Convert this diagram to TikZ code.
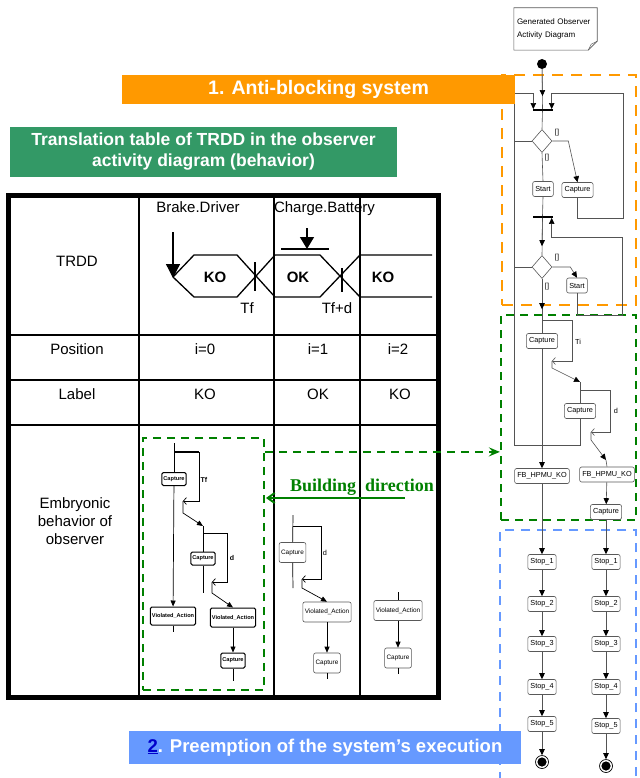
\documentclass[tikz,border=0pt]{standalone}
\usepackage{fontspec}
\setmainfont{Liberation Sans}
\newfontfamily\serifbf{Liberation Serif}
\usetikzlibrary{arrows.meta,shapes.geometric,calc}

\begin{document}
\begin{tikzpicture}[x=1pt,y=-1pt,
  banner/.style={rectangle,fill=#1,text=white,inner sep=0pt,align=center},
  zone/.style={rectangle,draw=#1,line width=2.5pt,dash pattern=on 9pt off 7pt,inner sep=0pt},
  cell/.style={font=\fontsize{15}{18}\selectfont,align=center},
  actbox/.style={rectangle,rounded corners=2pt,draw=gray!70!black,fill=white,line width=0.6pt,
                 inner sep=2.6pt,minimum height=15pt,font=\fontsize{7.3}{8}\selectfont},
  embox/.style={rectangle,rounded corners=1.5pt,draw=black,fill=white,line width=1pt,
                inner sep=1.5pt,minimum height=13pt,font=\fontsize{5.6}{6}\selectfont\bfseries},
  ebox/.style={actbox,font=\fontsize{6.4}{7}\selectfont,minimum height=20pt,inner sep=2pt},
  dec/.style={diamond,draw=gray!70!black,fill=white,line width=0.6pt,inner sep=0pt,
              minimum width=20pt,minimum height=23pt},
  barnode/.style={rectangle,fill=black,inner sep=0pt,minimum width=20pt,minimum height=1.5pt},
  fin/.style={circle,draw,line width=0.7pt,inner sep=0pt,minimum size=13pt,
              path picture={\fill (path picture bounding box.center) circle (4.6pt);}},
  lbl/.style={font=\fontsize{7.3}{8}\selectfont,inner sep=1pt},
  flw/.style={draw=gray!65!black,line width=0.6pt},
  fla/.style={flw,-{Triangle[length=6pt,width=5.5pt,color=black]}},
  bck/.style={flw,-{Straight Barb[length=3pt,width=7pt]}},
  eln/.style={draw=black,line width=0.7pt},
  ela/.style={eln,-{Triangle[length=6pt,width=5pt]}},
  ebk/.style={eln,-{Straight Barb[length=3pt,width=7pt]}},
]
  \definecolor{corange}{HTML}{FF9900}
  \definecolor{cgreenb}{HTML}{339966}
  \definecolor{cblue}{HTML}{6699FF}
  \definecolor{cdash}{HTML}{008000}
  \definecolor{clink}{HTML}{0000CC}

  \clip (0,0) rectangle (639,778);
  \fill[white] (0,0) rectangle (639,778);

  % translation table
  \draw[line width=5pt] (8.5,195) rectangle (438,697);
  \foreach \x in {139,274,360} \draw[line width=1.8pt] (\x,195) -- (\x,697);
  \foreach \y in {335,380,425} \draw[line width=1.8pt] (8.5,\y) -- (438,\y);

  \node[cell] (trdd) at (77,261) {TRDD};
  \node[cell] (pos) at (77,349) {Position};
  \node[cell] (lab) at (77,394) {Label};
  \node[cell] (embr) at (75,521) {Embryonic\\behavior of\\observer};
  \node[cell] (p0) at (205,349) {i=0};
  \node[cell] (p1) at (318,349) {i=1};
  \node[cell] (p2) at (398,349) {i=2};
  \node[cell] (l0) at (205,394) {KO};
  \node[cell] (l1) at (318,394) {OK};
  \node[cell] (l2) at (400,394) {KO};

  % TRDD chronogram
  \node[cell,anchor=base] (brk) at (198,212.5) {Brake.Driver};
  \node[cell,anchor=base] (chg) at (324.5,212.5) {Charge.Battery};
  \draw[line width=1.3pt] (173,277) -- (194,255) -- (237,255) -- (275,297) -- (320,297) -- (360,255) -- (432,255);
  \draw[line width=1.3pt] (173,277) -- (194,297) -- (237,297) -- (275,255) -- (320,255) -- (360,297) -- (432,297);
  \draw[line width=1.3pt] (255,262) -- (255,291) (342,268) -- (342,292);
  \draw[line width=1.3pt,-{Triangle[length=14pt,width=14pt]}] (173,232) -- (173,278);
  \draw[line width=1.3pt,-{Triangle[length=12pt,width=14pt]}] (307,228) -- (307,249);
  \draw[line width=1.5pt] (281,249) -- (329,249);
  \node[cell,font=\fontsize{15}{18}\selectfont\bfseries] (s0) at (215,277) {KO};
  \node[cell,font=\fontsize{15}{18}\selectfont\bfseries] (s1) at (298,277) {OK};
  \node[cell,font=\fontsize{15}{18}\selectfont\bfseries] (s2) at (383,277) {KO};
  \node[cell] (tf) at (247,308) {Tf};
  \node[cell] (tfd) at (337,308) {Tf+d};

  % embryonic behaviour, i=0
  \node[zone=cdash,dash pattern=on 8pt off 6pt,line width=2.2pt,minimum width=121pt,minimum height=252pt] (embA) at (203.5,564) {};
  \coordinate (a0) at (174,443);
  \coordinate (a1) at (199,452);
  \coordinate (a2) at (183,501);
  \coordinate (a3) at (183,513);
  \coordinate (a4) at (203,526);
  \node[embox] (ecap1) at (174,479) {Capture};
  \node[embox,minimum height=18pt] (eva1) at (173,616) {Violated\_Action};
  \node[embox] (ecap2) at (203,558.5) {Capture};
  \node[embox,minimum height=19pt] (eva2) at (233,617.5) {Violated\_Action};
  \node[embox,minimum height=15pt] (ecap3) at (233,660.5) {Capture};
  \draw[eln] (a0) -- (ecap1);
  \draw[ela] (ecap1) -- (eva1);
  \draw[eln] (eva1.south) -- ++(0,6);
  \draw[line width=2pt] (a0 |- a1) -- (a1);
  \draw[ebk] (a1) -- (a1 |- a2) -- (a2);
  \draw[ela] (a2) -- (a3) -- (a4);
  \coordinate (b1) at (227,533);
  \coordinate (b2) at (212,582);
  \coordinate (b3) at (212,593);
  \draw[eln] (a4) -- (ecap2) -- (a4 |- b3);
  \draw[ebk] (a4 |- b1) -- (b1) -- (b1 |- b2) -- (b2);
  \draw[ela] (b2) -- (b3) -- (eva2.north);
  \draw[ela] (eva2) -- (ecap3);
  \draw[eln] (ecap3.south) -- ++(0,12);
  \node[lbl,font=\fontsize{7}{8}\selectfont\bfseries] (tfA) at (204,480) {Tf};
  \node[lbl,font=\fontsize{7}{8}\selectfont\bfseries] (dA) at (232,558) {d};

  % embryonic behaviour, i=1
  \coordinate (c0) at (293,515);
  \coordinate (c1) at (321,526);
  \coordinate (c2) at (302,579);
  \coordinate (c3) at (302,588);
  \node[ebox] (fcap1) at (292.5,552.5) {Capture};
  \node[ebox] (fva1) at (327,612) {Violated\_Action};
  \node[ebox] (fcap2) at (327,663) {Capture};
  \draw[eln] (c0) -- (fcap1) -- (c0 |- c3);
  \draw[ebk] (c0 |- c1) -- (c1) -- (c1 |- c2) -- (c2);
  \draw[ela] (c2) -- (c3) -- (fva1.north);
  \draw[ela] (fva1) -- (fcap2);
  \draw[eln] (fcap2.south) -- ++(0,6);
  \node[lbl] (dB) at (325,553) {d};

  % embryonic behaviour, i=2
  \node[ebox] (gva1) at (398,610.5) {Violated\_Action};
  \node[ebox] (gcap1) at (398,658) {Capture};
  \draw[eln] (gva1.north) -- ++(0,-8);
  \draw[ela] (gva1) -- (gcap1);
  \draw[eln] (gcap1.south) -- ++(0,6);

  % zones of the observer
  \node[zone=corange,dash pattern=on 11pt off 8pt,minimum width=134pt,minimum height=230pt] (zoneO) at (569,190) {};
  \node[zone=cdash,dash pattern=on 8pt off 6pt,line width=2.2pt,minimum width=135pt,minimum height=205pt] (zoneG) at (568.5,417.5) {};
  \node[zone=cblue,dash pattern=on 9pt off 7pt,minimum width=136pt,minimum height=270pt] (zoneB) at (568,665) {};

  % building direction
  \coordinate (gs) at ($(embA.north east)+(0,15)$);
  \draw[cdash,line width=2.2pt,dash pattern=on 8pt off 6pt,-{Stealth[length=11pt,width=9pt,inset=4pt]}] (gs) -- (gs -| zoneG.west);
  \node[font=\serifbf\bfseries\fontsize{18}{20}\selectfont,text=cdash] (bdir) at (362,487) {Building\ \ direction};
  \coordinate (bdR) at (405,498);
  \coordinate (bdL) at (266,498);
  \draw[cdash,line width=2pt,-{Straight Barb[length=7pt,width=10pt]}] (bdR) -- (bdL);

  % generated observer activity diagram
  \node[font=\fontsize{8}{13}\selectfont,align=left,minimum width=83pt,minimum height=42pt,
        inner sep=3pt,text width=77pt] (gen) at (555.5,29) {Generated Observer\\Activity Diagram};
  \draw[gray!70!black,line width=0.6pt] (gen.north west) -- (gen.north east) -- ($(gen.south east)+(0,-9)$)
        -- ($(gen.south east)+(-9,0)$) -- (gen.south west) -- cycle;
  \draw[gray!70!black,line width=0.5pt] ($(gen.south east)+(-9,0)$) -- ($(gen.south east)+(-6,-6)$) -- ($(gen.south east)+(0,-9)$);

  \node[circle,fill,inner sep=0pt,minimum width=9pt,minimum height=10pt] (init) at (542,64) {};
  \node[barnode] (bar1) at (542.5,110) {};
  \node[dec] (dec1) at (542,141) {};
  \node[actbox] (start1) at (543,189) {Start};
  \node[actbox] (capA) at (577.5,190) {Capture};
  \node[barnode] (bar2) at (542.5,217) {};
  \node[dec] (dec2) at (542,267) {};
  \node[actbox] (start2) at (577,285.5) {Start};
  \node[actbox] (cap1) at (542,341) {Capture};
  \node[actbox] (cap2) at (580,411) {Capture};
  \node[actbox] (fb1) at (542,476) {FB\_HPMU\_KO};
  \node[actbox] (fb2) at (607,474.5) {FB\_HPMU\_KO};
  \node[actbox] (cap3) at (606,512) {Capture};

  \draw[flw] (init) -- (bar1);
  \draw[fla] (init) -- ($(bar1.north)+(0,-13)$);
  \draw[flw] (bar1) -- (dec1.north);

  % loops back to the first join
  \coordinate (lpL) at (514,445);
  \coordinate (lpT) at (514,93);
  \draw[fla] (cap2.south) |- (lpL) -- (lpT) -| ([xshift=1pt]bar1.north west);
  \coordinate (rpA) at (623,218);
  \coordinate (rpB) at (623,93);
  \draw[fla] (capA.south) |- (rpA) -- (rpB) -| ([xshift=-1pt]bar1.north east);
  \draw[flw] (dec1.west) -- (dec1.west -| lpL);
  \draw[flw] (dec2.west) -- (dec2.west -| lpL);

  % first decision
  \draw[fla] (dec1.east) -- ++(16,0) -- (capA.north);
  \draw[flw] (dec1.south) -- (start1.north);
  \draw[flw] (start1.south) -- (bar2.north);
  \node[lbl] (g1) at (557,133) {[]};
  \node[lbl] (g2) at (547,158) {[]};

  % second decision
  \draw[flw] (bar2) -- (dec2.north);
  \draw[fla] (bar2) -- ($(dec2.north)+(0,-9)$);
  \coordinate (rpC) at (622,315);
  \coordinate (rpD) at (622,237);
  \draw[fla] (start2.south) |- (rpC) -- (rpD) -| ([xshift=-1pt]bar2.south east);
  \draw[fla] (dec2.east) -- ++(18,0) -- (start2.north);
  \draw[flw] (dec2.south) -- (cap1.north);
  \draw[fla] (dec2.south) -- ($(cap1.north)+(0,-24)$);
  \node[lbl] (g3) at (557,258) {[]};
  \node[lbl] (g4) at (547,287) {[]};

  % timing loops Ti and d
  \coordinate (tiA) at (542,320);
  \coordinate (tiB) at (572,361);
  \coordinate (tiC) at (552,361);
  \coordinate (tiD) at (552,368);
  \coordinate (tiE) at (580,382);
  \draw[bck] (tiA) -| (tiB) -- (tiC);
  \draw[fla] (tiC) -- (tiD) -- (tiE);
  \draw[flw] (tiE) -- (cap2.north);
  \node[lbl] (ti) at (578,342) {Ti};
  \coordinate (dA1) at (580,390);
  \coordinate (dB1) at (610,432);
  \coordinate (dC1) at (591,432);
  \coordinate (dD1) at (591,440);
  \coordinate (dE1) at (606,460);
  \draw[bck] (dA1) -| (dB1) -- (dC1);
  \draw[fla] (dC1) -- (dD1) -- (dE1);
  \draw[flw] (dE1) -- (fb2.north);
  \node[lbl] (dd) at (616,411) {d};

  \draw[fla] (cap1.south) -- (fb1.north);
  \draw[fla] (fb2) -- (cap3);

  % preemption: stop chains
  \foreach \i/\yl/\yr in {1/562/562,2/604/604,3/644/644,4/687/687,5/724/726} {
    \node[actbox] (sl\i) at (542,\yl) {Stop\_\i};
    \node[actbox] (sr\i) at (606,\yr) {Stop\_\i};
  }
  \node[fin] (finL) at (542,762) {};
  \node[fin] (finR) at (606,766) {};
  \draw[fla] (fb1) -- (sl1);
  \draw[fla] (cap3) -- (sr1);
  \foreach \i/\j in {1/2,2/3,3/4,4/5} {
    \draw[fla] (sl\i) -- (sl\j);
    \draw[fla] (sr\i) -- (sr\j);
  }
  \draw[fla] (sl5) -- (finL);
  \draw[fla] (sr5) -- (finR);

  % banners
  \node[banner=corange,minimum width=393pt,minimum height=29pt,font=\fontsize{19.5}{22}\selectfont\bfseries] (ban1) at (318.5,89.5) {1. Anti-blocking system};
  \node[banner=cgreenb,minimum width=387pt,minimum height=50pt,font=\fontsize{17.5}{21}\selectfont\bfseries] (ban2) at (203.5,152) {Translation table of TRDD in the observer\\activity diagram (behavior)};
  \node[banner=cblue,minimum width=392pt,minimum height=33pt,font=\fontsize{18.5}{22}\selectfont\bfseries] (ban3) at (325,747.5) {\textcolor{clink}{\underline{2}}. Preemption of the system’s execution};
\end{tikzpicture}
\end{document}
